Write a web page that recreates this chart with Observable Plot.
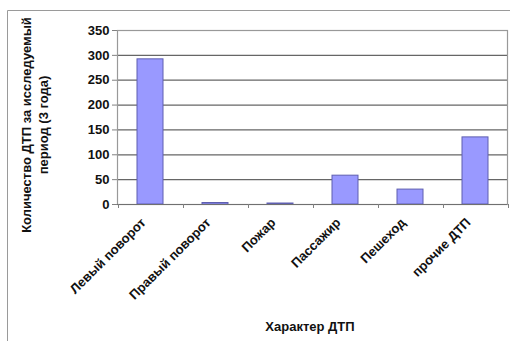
<!DOCTYPE html>
<html><head><meta charset="utf-8">
<script src="https://cdn.jsdelivr.net/npm/d3@7"></script>
<script src="https://cdn.jsdelivr.net/npm/@observablehq/plot@0.6"></script>
<style>
body{margin:0;background:#fff;}
#c{position:relative;width:510px;height:341px;overflow:hidden;}
#c svg{font-family:"Liberation Sans",Arial,sans-serif;font-size:13px;font-weight:bold;}
</style>
</head><body><div id="c"></div>
<script>
const categories = ["Левый поворот","Правый поворот","Пожар","Пассажир","Пешеход","прочие ДТП"];
const values = [292, 3, 2, 58, 30, 135];
const yTicks = [0,50,100,150,200,250,300,350];
const yLabelLines = ["Количество ДТП за исследуемый","период (3 года)"];
const xTitle = "Характер ДТП";

const data = categories.map((c,i)=>({cat:c, v:values[i]}));

const plot = Plot.plot({
  width: 510, height: 341,
  marginLeft: 117, marginRight: 3, marginTop: 30, marginBottom: 137,
  x: {domain: categories, paddingInner: 0.6, paddingOuter: 0.3, label: null},
  y: {domain: [0,350], ticks: yTicks, label: null, tickSize: 5, tickPadding: 3},
  marks: [
    Plot.ruleY(yTicks, {stroke: "#666", strokeWidth: 1.2}),
    Plot.frame({stroke: "#999", strokeWidth: 1.2}),
    Plot.barY(data, {x: "cat", y: "v", fill: "#9999ff", stroke: "#5f5fb0", strokeWidth: 1}),
    Plot.ruleY([0], {stroke: "#707070"}),
    Plot.axisX({tickSize: 0, tickRotate: -45, tickPadding: 16, dx: -7, label: null})
  ]
});
document.getElementById("c").appendChild(plot);

const svg = d3.select(plot);
svg.selectAll('g[aria-label="y-axis tick"]').attr("stroke", "#808080");
svg.selectAll('g[aria-label="y-axis tick label"], g[aria-label="x-axis tick label"]').attr("fill", "#111");
const xs = plot.scale("x");
const y0 = plot.scale("y").apply(0);
const half = xs.step / 2;
const bounds = [xs.apply(categories[0]) + xs.bandwidth/2 - half]
  .concat(categories.map(c => xs.apply(c) + xs.bandwidth/2 + half));
const deco = svg.append("g").attr("stroke", "#808080");
bounds.forEach(xx => {
  const x = Math.round(xx) + 0.5;
  deco.append("line").attr("x1",x).attr("x2",x).attr("y1",y0).attr("y2",y0+4);
});
deco.append("line").attr("x1",7.5).attr("x2",510).attr("y1",10.5).attr("y2",10.5).attr("stroke","#9a9a9a");
deco.append("line").attr("x1",7.5).attr("x2",7.5).attr("y1",10.5).attr("y2",341).attr("stroke","#9a9a9a");
const yl = svg.append("text").attr("transform","translate(31,125) rotate(-90)")
  .attr("text-anchor","middle").attr("fill","#111");
yl.append("tspan").attr("x",0).attr("dy",0).text(yLabelLines[0]);
yl.append("tspan").attr("x",0).attr("dy",17).text(yLabelLines[1]);
svg.append("text").attr("x",310).attr("y",331).attr("text-anchor","middle")
  .attr("fill","#111").text(xTitle);
</script></body></html>
